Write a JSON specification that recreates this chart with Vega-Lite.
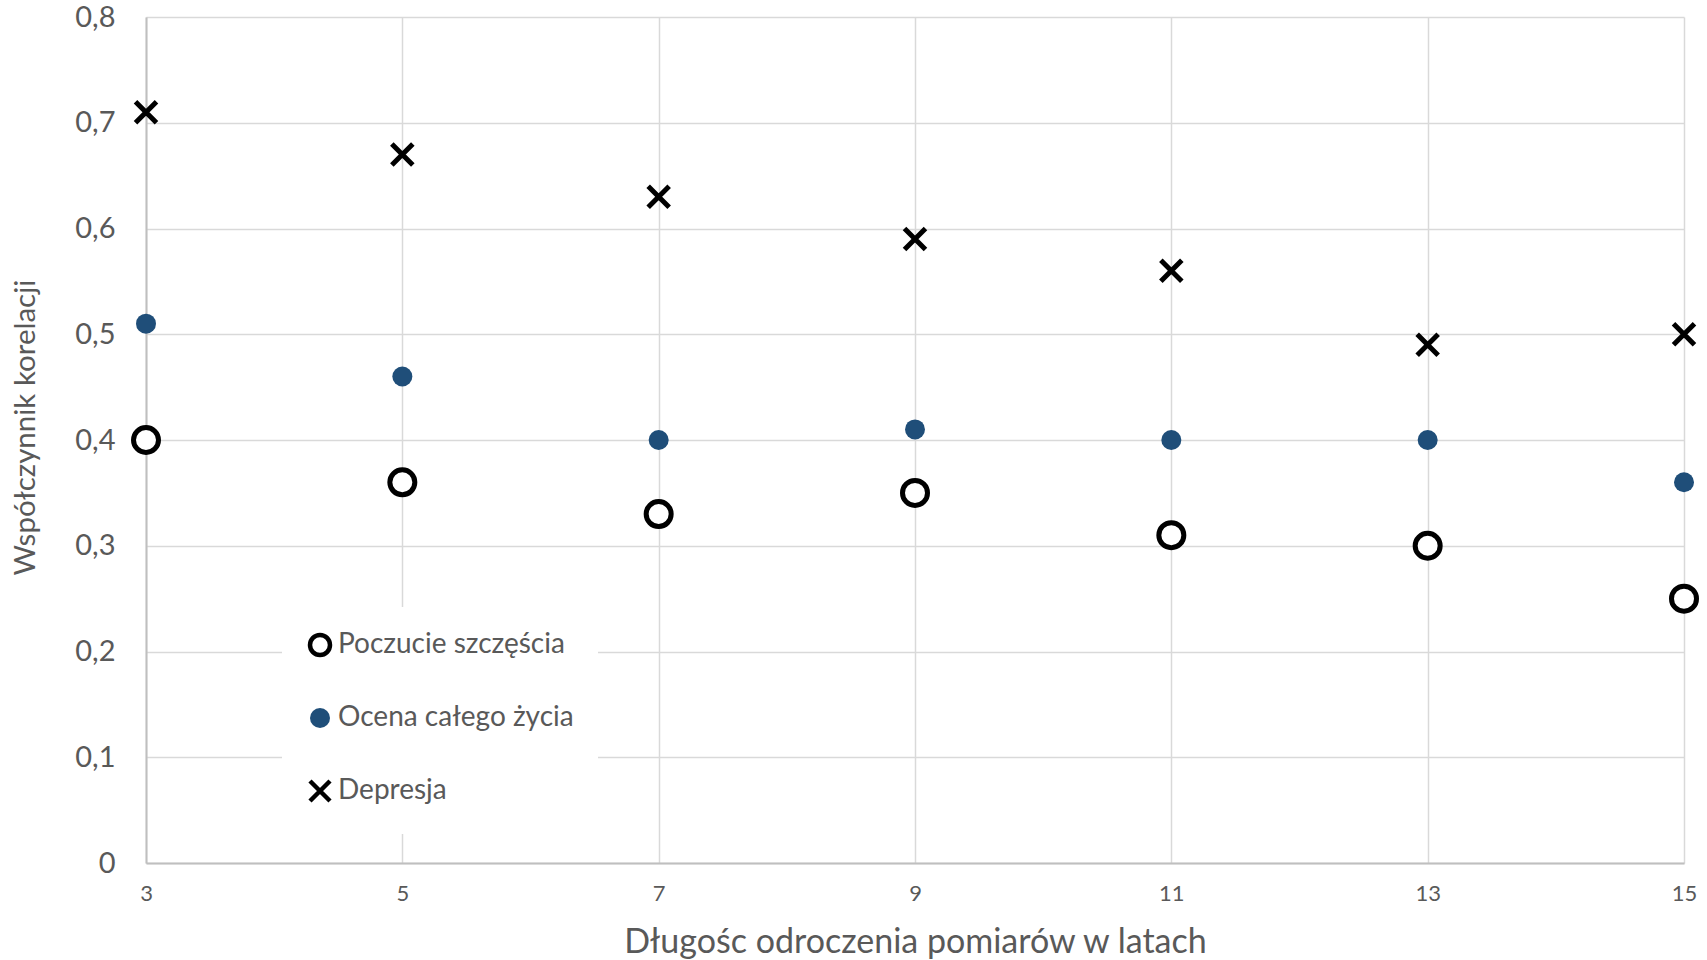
{
  "$schema": "https://vega.github.io/schema/vega-lite/v6.json",
  "width": 1538,
  "height": 846,
  "autosize": "none",
  "padding": {"left": 146, "top": 17, "right": 23, "bottom": 97},
  "background": "white",
  "config": {
    "view": {"stroke": null},
    "font": "Lato",
    "axis": {
      "gridColor": "#d9d9d9",
      "gridWidth": 1.5,
      "domainColor": "#bfbfbf",
      "domainWidth": 2,
      "ticks": false,
      "labelFlush": false,
      "labelColor": "#595959",
      "titleColor": "#595959",
      "titleFontWeight": "normal",
      "labelFont": "Lato",
      "titleFont": "Lato"
    }
  },
  "data": {
    "values": [
      {"lata": 3, "wartosc": 0.40, "seria": "Poczucie szczęścia"},
      {"lata": 5, "wartosc": 0.36, "seria": "Poczucie szczęścia"},
      {"lata": 7, "wartosc": 0.33, "seria": "Poczucie szczęścia"},
      {"lata": 9, "wartosc": 0.35, "seria": "Poczucie szczęścia"},
      {"lata": 11, "wartosc": 0.31, "seria": "Poczucie szczęścia"},
      {"lata": 13, "wartosc": 0.30, "seria": "Poczucie szczęścia"},
      {"lata": 15, "wartosc": 0.25, "seria": "Poczucie szczęścia"},
      {"lata": 3, "wartosc": 0.51, "seria": "Ocena całego życia"},
      {"lata": 5, "wartosc": 0.46, "seria": "Ocena całego życia"},
      {"lata": 7, "wartosc": 0.40, "seria": "Ocena całego życia"},
      {"lata": 9, "wartosc": 0.41, "seria": "Ocena całego życia"},
      {"lata": 11, "wartosc": 0.40, "seria": "Ocena całego życia"},
      {"lata": 13, "wartosc": 0.40, "seria": "Ocena całego życia"},
      {"lata": 15, "wartosc": 0.36, "seria": "Ocena całego życia"},
      {"lata": 3, "wartosc": 0.71, "seria": "Depresja"},
      {"lata": 5, "wartosc": 0.67, "seria": "Depresja"},
      {"lata": 7, "wartosc": 0.63, "seria": "Depresja"},
      {"lata": 9, "wartosc": 0.59, "seria": "Depresja"},
      {"lata": 11, "wartosc": 0.56, "seria": "Depresja"},
      {"lata": 13, "wartosc": 0.49, "seria": "Depresja"},
      {"lata": 15, "wartosc": 0.50, "seria": "Depresja"}
    ]
  },
  "mark": {"type": "point", "opacity": 1, "filled": false, "strokeWidth": 5},
  "encoding": {
    "x": {
      "field": "lata",
      "type": "quantitative",
      "scale": {"domain": [3, 15], "nice": false, "zero": false},
      "axis": {
        "values": [3, 5, 7, 9, 11, 13, 15],
        "labelFontSize": 22,
        "labelPadding": 20,
        "title": "Długośc odroczenia pomiarów w latach",
        "titleFontSize": 34,
        "titlePadding": 21
      }
    },
    "y": {
      "field": "wartosc",
      "type": "quantitative",
      "scale": {"domain": [0, 0.8], "nice": false},
      "axis": {
        "values": [0, 0.1, 0.2, 0.3, 0.4, 0.5, 0.6, 0.7, 0.8],
        "labelExpr": "datum.value == 0 ? '0' : replace(format(datum.value, '.1f'), '.', ',')",
        "labelFontSize": 29,
        "labelPadding": 31,
        "title": "Współczynnik korelacji",
        "titleFontSize": 29.5,
        "titlePadding": 34,
        "titleY": 410
      }
    },
    "shape": {
      "field": "seria",
      "type": "nominal",
      "scale": {
        "domain": ["Poczucie szczęścia", "Ocena całego życia", "Depresja"],
        "range": ["circle", "circle", "M-1,-1L1,1M-1,1L1,-1"]
      },
      "legend": {
        "title": null,
        "orient": "none",
        "legendX": 136,
        "legendY": 590,
        "fillColor": "white",
        "padding": 24,
        "labelFontSize": 28,
        "labelColor": "#595959",
        "labelFont": "Lato",
        "labelLimit": 500,
        "rowPadding": 35,
        "labelOffset": 4,
        "symbolStrokeWidth": 4.5,
        "symbolSize": 400
      }
    },
    "fill": {
      "field": "seria",
      "type": "nominal",
      "scale": {
        "domain": ["Poczucie szczęścia", "Ocena całego życia", "Depresja"],
        "range": ["white", "#1F4E79", "transparent"]
      },
      "legend": null
    },
    "stroke": {
      "field": "seria",
      "type": "nominal",
      "scale": {
        "domain": ["Poczucie szczęścia", "Ocena całego życia", "Depresja"],
        "range": ["black", "transparent", "black"]
      },
      "legend": null
    },
    "size": {
      "condition": [
        {"test": "datum.seria == 'Ocena całego życia'", "value": 400},
        {"test": "datum.seria == 'Depresja'", "value": 440}
      ],
      "value": 625
    }
  }
}
